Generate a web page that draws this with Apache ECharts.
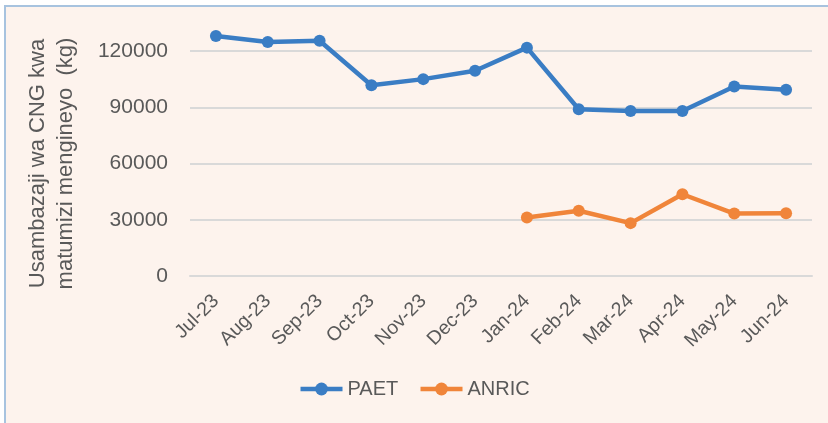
<!DOCTYPE html>
<html>
<head>
<meta charset="utf-8">
<style>
  html, body { margin: 0; padding: 0; background: #fff; }
  #myChart { width: 828px; height: 423px; }
</style>
<script src="https://cdn.jsdelivr.net/npm/echarts@6/dist/echarts.min.js"></script>
</head>
<body>
<div id="myChart"></div>
<script>
// data
const months = ['Jul-23', 'Aug-23', 'Sep-23', 'Oct-23', 'Nov-23', 'Dec-23',
    'Jan-24', 'Feb-24', 'Mar-24', 'Apr-24', 'May-24', 'Jun-24'];
const paet = [128000, 124800, 125500, 101700, 105000, 109500,
    121800, 88900, 88000, 88000, 101100, 99300];
const anric = [null, null, null, null, null, null,
    31200, 34800, 28200, 43600, 33300, 33500];
const yTicks = [0, 30000, 60000, 90000, 120000];

const myChart = echarts.init(document.getElementById('myChart'));
const font = 'Liberation Sans, Arial, sans-serif';

const option = {
    backgroundColor: '#ffffff',
    animation: false,
    graphic: [
        {
            // peach panel with the thin blue frame
            type: 'rect',
            left: 4, top: 5,
            shape: { width: 830, height: 425 },
            style: { fill: '#fdf3ed', stroke: '#a7c3df', lineWidth: 2 },
            z: -10
        }
    ],
    grid: { left: 190, right: 16, top: 51, bottom: 147 },
    legend: {
        data: ['PAET', 'ANRIC'],
        left: 'center',
        top: 374,
        itemWidth: 42,
        itemHeight: 16,
        itemGap: 20,
        lineStyle: { width: 4.5 },
        textStyle: { fontFamily: font, fontSize: 20, color: '#595959' }
    },
    xAxis: {
        type: 'category',
        data: months,
        boundaryGap: true,
        axisLine: { show: true, lineStyle: { color: '#d9d9d9', width: 2 } },
        axisTick: { show: false },
        axisLabel: {
            rotate: 45,
            margin: 22,
            fontFamily: font,
            fontSize: 19.5,
            color: '#595959',
            interval: 0
        }
    },
    yAxis: {
        type: 'value',
        min: 0,
        max: 120000,
        interval: 30000,
        name: 'Usambazaji wa CNG kwa\nmatumizi mengineyo  (kg)',
        nameLocation: 'middle',
        nameRotate: 90,
        nameGap: 110,
        nameTextStyle: { fontFamily: font, fontSize: 22, color: '#595959', lineHeight: 28 },
        axisLine: { show: false },
        axisTick: { show: false },
        splitLine: { lineStyle: { color: '#d9d9d9', width: 2 } },
        axisLabel: {
            margin: 22,
            fontFamily: font,
            fontSize: 21,
            color: '#595959',
            formatter: v => yTicks.includes(v) ? String(v) : ''
        }
    },
    series: [
        {
            name: 'PAET',
            type: 'line',
            data: paet,
            clip: false,
            color: '#3a7dc4',
            symbol: 'circle',
            symbolSize: 12,
            lineStyle: { width: 4.5 }
        },
        {
            name: 'ANRIC',
            type: 'line',
            data: anric,
            clip: false,
            color: '#f0853a',
            symbol: 'circle',
            symbolSize: 12,
            lineStyle: { width: 4.5 }
        }
    ]
};

myChart.setOption(option);
window.addEventListener('resize', myChart.resize);
</script>
</body>
</html>
